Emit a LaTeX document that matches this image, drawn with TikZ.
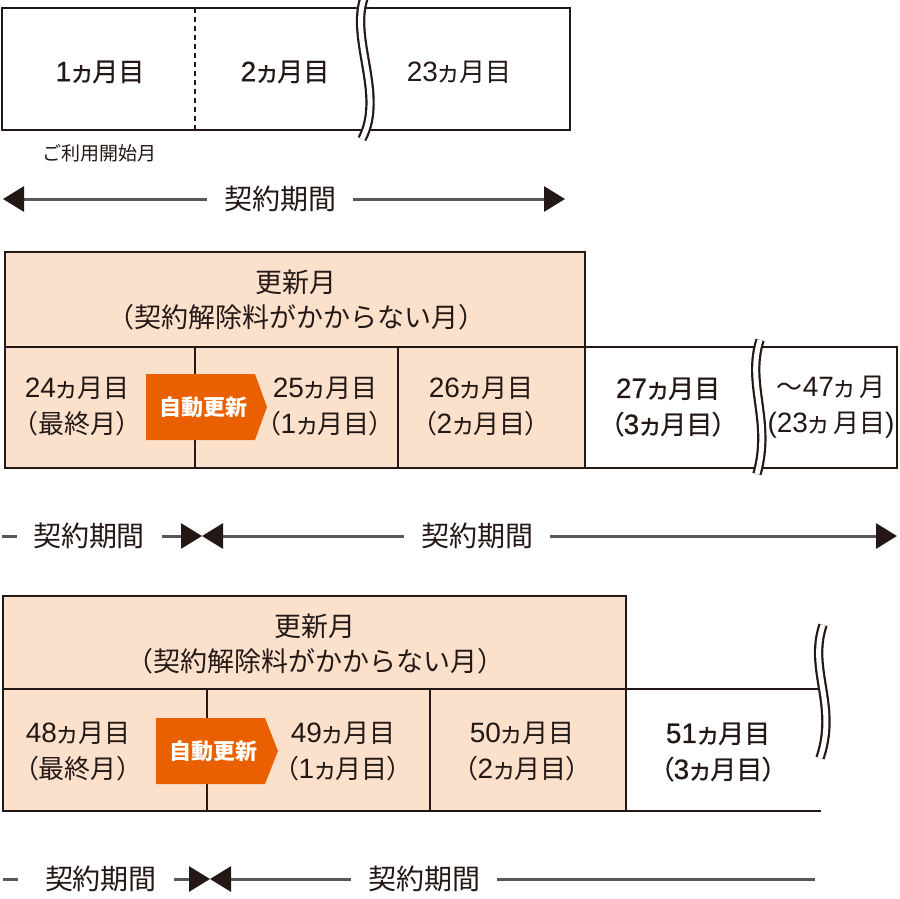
\documentclass[tikz,border=0pt]{standalone}
\usepackage{fontspec}
\newfontfamily\jp{Noto Sans CJK JP}
\newfontfamily\jpp[RawFeature=+palt]{Noto Sans CJK JP}
\newfontfamily\jpm[FakeBold=0.5,RawFeature=+palt]{Noto Sans CJK JP}
\newfontfamily\lat{Liberation Sans}
\newfontfamily\latb[FakeBold=0.5]{Liberation Sans}
\newcommand\dg[1]{{\lat\fontsize{28}{36}\selectfont #1}}
\newcommand\dgb[1]{{\latb\fontsize{28}{36}\selectfont #1}}
\usetikzlibrary{arrows.meta}
\definecolor{peach}{HTML}{FBE1CC}
\definecolor{orng}{HTML}{EA6000}
\definecolor{ink}{HTML}{231815}
\definecolor{agray}{HTML}{595757}
\tikzset{Tri/.tip={Triangle[length=21pt,width=25pt,color=ink]}}
\begin{document}
\begin{tikzpicture}[x=1pt,y=-1pt,
  box/.style={draw=ink,line width=2.6pt},
  head/.style={font=\jp\fontsize{27}{35}\selectfont, text=ink, align=center, inner sep=0pt},
  cell/.style={font=\jpp\fontsize{26}{36}\selectfont, text=ink, align=center, inner sep=0pt},
  cellb/.style={font=\jpm\fontsize{26}{36}\selectfont, text=ink, align=center, inner sep=0pt},
  lbl/.style={font=\jp\fontsize{28}{30}\selectfont, text=ink, inner xsep=17pt, inner ysep=0pt},
  aline/.style={draw=agray, line width=3pt},
  brk/.style={draw=ink, line width=2.2pt, double=white, double distance=5pt},
  badge/.style={font=\jp\bfseries\fontsize{22}{24}\selectfont, text=white, inner sep=0pt},
]
\useasboundingbox[fill=white] (0,0) rectangle (900,898);

% ---------- top row ----------
\draw[box] (2,8) rectangle (570,130);
\draw[ink, line width=2pt, dash pattern=on 5pt off 4pt] (195,8) -- (195,130);
\draw[brk] (364,-2) .. controls (350,40) and (385,95) .. (362,139);
\node[cellb] (m1) at (100,72) {\dgb{1}ヵ月目};
\node[cellb] (m2) at (285,72) {\dgb{2}ヵ月目};
\node[cell] (m23) at (459,72) {\dg{23}ヵ月目};
\node[font=\jp\fontsize{19}{20}\selectfont, text=ink, inner sep=0pt] (start) at (99,153) {ご利用開始月};

\node[lbl] (L1) at (280,199) {契約期間};
\coordinate (a1l) at (3,199);
\coordinate (a1r) at (565,199);
\draw[aline,-Tri] (L1.west) -- (a1l);
\draw[aline,-Tri] (L1.east) -- (a1r);

% ---------- second block ----------
\draw[box, fill=peach] (5,252) rectangle (585,347);
\draw[box, fill=peach] (5,347) rectangle (585,468);
\draw[box] (195,347) -- (195,468);
\draw[box] (398,347) -- (398,468);
\draw[box] (585,347) rectangle (897,468);
\draw[brk] (760,340) .. controls (746,385) and (772,420) .. (757,474);
\fill[orng] (146,374) -- (255,374) -- (267,407) -- (255,440) -- (146,440) -- cycle;
\node[badge] (b1) at (203,407) {自動更新};

\node[head] (h1) at (296,300) {更新月\\（契約解除料がかからない月）};
\node[cell] (c24) at (77,407) {\dg{24}ヵ月目\\（最終月）};
\node[cell] (c25) at (325,407) {\dg{25}ヵ月目\\（\dg{1}ヵ月目）};
\node[cell] (c26) at (481,407) {\dg{26}ヵ月目\\（\dg{2}ヵ月目）};
\node[cellb] (c27) at (668,407) {\dgb{27}ヵ月目\\（\dgb{3}ヵ月目）};
\node[cell] (c47) at (831,407) {～\dg{47}ヵ\hspace{4pt}月\\\dg{(23}ヵ\hspace{4pt}月目\dg{)}};

\coordinate (d2a) at (2,536);
\coordinate (d2b) at (17,536);
\draw[aline] (d2a) -- (d2b);
\node[lbl] (L2a) at (89,536) {契約期間};
\node[lbl] (L2b) at (477,536) {契約期間};
\coordinate (k2) at (202,536);
\coordinate (e2) at (897,536);
\draw[aline,-Tri] (L2a.east) -- (k2);
\draw[aline,-Tri] (L2b.west) -- (k2);
\draw[aline,-Tri] (L2b.east) -- (e2);

% ---------- third block ----------
\draw[box, fill=peach] (3,596) rectangle (626,689);
\draw[box, fill=peach] (3,689) rectangle (626,811);
\draw[box] (207,689) -- (207,811);
\draw[box] (430,689) -- (430,811);
\coordinate (t3) at (822,689);
\coordinate (u3) at (821,811);
\draw[box] (626,689) -- (t3);
\draw[box] (626,811) -- (u3);
\draw[brk] (823,625) .. controls (808,670) and (838,705) .. (820,758);
\fill[orng] (156,718) -- (265,718) -- (278,751) -- (265,784) -- (156,784) -- cycle;
\node[badge] (b2) at (213,751) {自動更新};

\node[head] (h2) at (315,644) {更新月\\（契約解除料がかからない月）};
\node[cell] (c48) at (78,752) {\dg{48}ヵ月目\\（最終月）};
\node[cell] (c49) at (343,752) {\dg{49}ヵ月目\\（\dg{1}ヵ月目）};
\node[cell] (c50) at (522,752) {\dg{50}ヵ月目\\（\dg{2}ヵ月目）};
\node[cellb] (c51) at (718,752) {\dgb{51}ヵ月目\\（\dgb{3}ヵ月目）};

\coordinate (d3a) at (3,879);
\coordinate (d3b) at (18,879);
\draw[aline] (d3a) -- (d3b);
\node[lbl] (L3a) at (101,879) {契約期間};
\node[lbl] (L3b) at (424,879) {契約期間};
\coordinate (k3) at (210,879);
\coordinate (e3) at (815,879);
\draw[aline,-Tri] (L3a.east) -- (k3);
\draw[aline,-Tri] (L3b.west) -- (k3);
\draw[aline] (L3b.east) -- (e3);
\end{tikzpicture}
\end{document}
